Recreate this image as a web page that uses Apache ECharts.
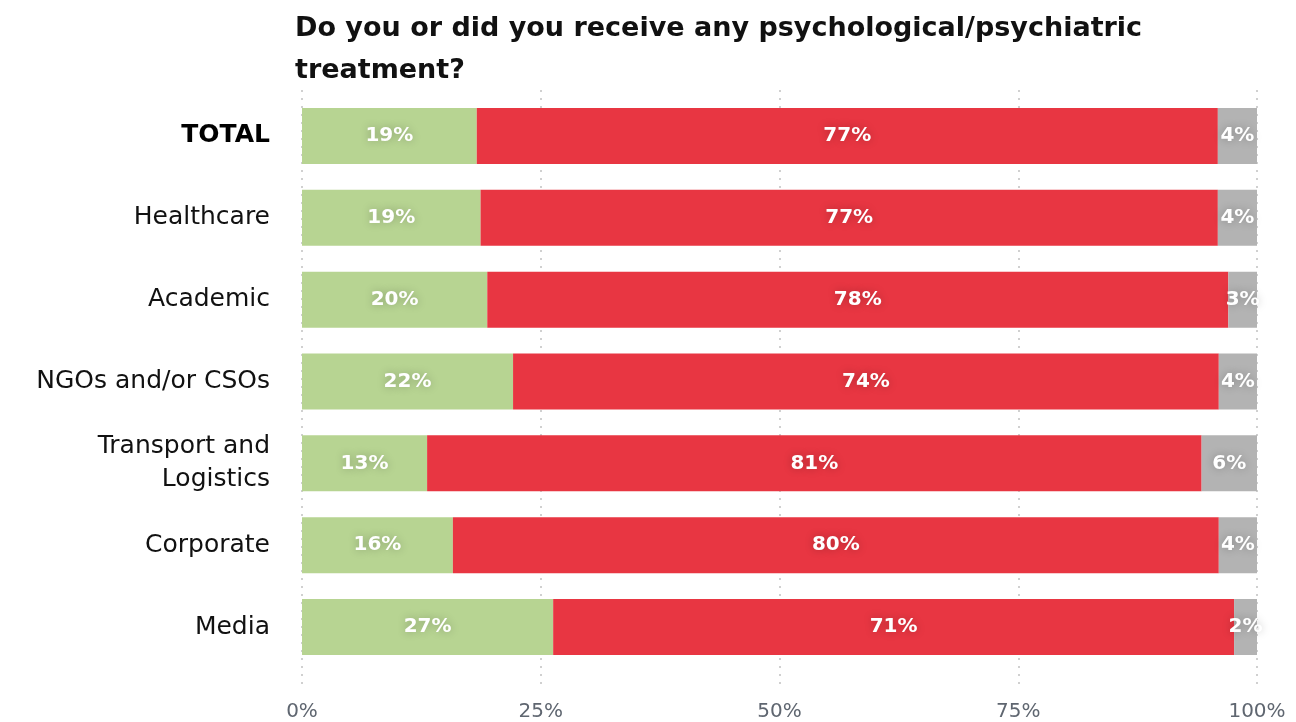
<!DOCTYPE html>
<html>
<head>
<meta charset="utf-8">
<script src="https://cdn.jsdelivr.net/npm/echarts@6/dist/echarts.min.js"></script>
<style>
html,body{margin:0;padding:0;background:#fff;}
#chart{width:1296px;height:722px;}
</style>
</head>
<body>
<div id="chart"></div>
<script>
const categories = ["TOTAL", "Healthcare", "Academic", "NGOs and/or CSOs", "Transport and\nLogistics", "Corporate", "Media"];
const yesValues = [18.3, 18.7, 19.4, 22.1, 13.1, 15.8, 26.3];
const noValues = [77.6, 77.2, 77.6, 73.9, 81.1, 80.2, 71.3];
const naValues = [4.1, 4.1, 3.0, 4.0, 5.8, 4.0, 2.4];
const yesLabels = ["19%", "19%", "20%", "22%", "13%", "16%", "27%"];
const noLabels = ["77%", "77%", "78%", "74%", "81%", "80%", "71%"];
const naLabels = ["4%", "4%", "3%", "4%", "6%", "4%", "2%"];
const tickLabels = ["0%", "25%", "50%", "75%", "100%"];

const chart = echarts.init(document.getElementById('chart'));
const FONT = '"DejaVu Sans", "Open Sans", sans-serif';

function mkSeries(name, values, labels, color) {
  return {
    name: name,
    type: 'bar',
    stack: 'all',
    barWidth: 56,
    data: values,
    itemStyle: { color: color },
    label: {
      show: true,
      position: 'inside',
      color: '#fff',
      fontFamily: FONT,
      fontWeight: 'bold',
      fontSize: 20,
      textShadowColor: 'rgba(0,0,0,0.25)',
      textShadowBlur: 8,
      formatter: p => labels[p.dataIndex]
    },
    silent: true
  };
}

chart.setOption({
  animation: false,
  backgroundColor: '#fff',
  title: {
    text: 'Do you or did you receive any psychological/psychiatric\ntreatment?',
    left: 290,
    top: 3,
    textStyle: {
      fontFamily: FONT,
      fontWeight: 'bold',
      fontSize: 27,
      lineHeight: 42,
      color: '#111'
    }
  },
  grid: [
    { left: 302, right: 39, top: 95, height: 573, containLabel: false },
    { left: 302, right: 39, top: 90, height: 594, containLabel: false }
  ],
  xAxis: [{
    type: 'value',
    gridIndex: 0,
    min: 0,
    max: 100,
    interval: 25,
    axisLine: { show: false },
    axisTick: { show: false },
    splitLine: { show: false },
    axisLabel: {
      margin: 34,
      fontFamily: FONT,
      fontSize: 20,
      color: '#5f6670',
      formatter: (v) => tickLabels[Math.round(v / 25)]
    }
  }, {
    type: 'value',
    gridIndex: 1,
    min: 0,
    max: 100,
    interval: 25,
    axisLine: { show: false },
    axisTick: { show: false },
    axisLabel: { show: false },
    splitLine: { show: true, lineStyle: { color: '#d0d0d0', type: [2, 6], width: 2 } }
  }],
  yAxis: [{
    type: 'category',
    gridIndex: 0,
    inverse: true,
    data: categories,
    axisLine: { show: false },
    axisTick: { show: false },
    axisLabel: {
      margin: 32,
      fontFamily: FONT,
      fontSize: 25,
      lineHeight: 33,
      color: '#111',
      formatter: (v) => v === 'TOTAL' ? '{b|' + v + '}' : v,
      rich: { b: { fontFamily: FONT, fontSize: 25, fontWeight: 'bold', color: '#000' } }
    }
  }, {
    type: 'value',
    gridIndex: 1,
    show: false,
    min: 0,
    max: 1
  }],
  series: [
    { type: 'line', xAxisIndex: 1, yAxisIndex: 1, data: [], silent: true },
    mkSeries('Yes', yesValues, yesLabels, '#b7d492'),
    mkSeries('No', noValues, noLabels, '#e83642'),
    mkSeries('N/A', naValues, naLabels, '#b3b3b3')
  ]
});
</script>
</body>
</html>
